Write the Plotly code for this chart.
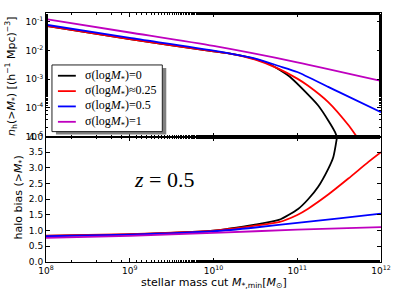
import plotly.graph_objects as go
import numpy as np

# ---- data (log10 stellar mass cut) ----
labels = ["σ(log<i>M</i><sub>*</sub>)=0", "σ(log<i>M</i><sub>*</sub>)≈0.25",
          "σ(log<i>M</i><sub>*</sub>)=0.5", "σ(log<i>M</i><sub>*</sub>)=1"]
colors = ["#000000", "#ff0000", "#0000ff", "#bf00bf"]

# top panel: log10 number density [(h^-1 Mpc)^-3]
nh_logM_s0 = [8, 9, 10, 10.18, 10.42, 10.66, 10.90, 11.13, 11.25, 11.37, 11.45, 11.48, 11.50]
nh_log_s0 = [-1.14, -1.60, -2.03, -2.10, -2.24, -2.46, -2.89, -3.54, -3.92, -4.44, -4.84, -5.05, -5.2]
nh_logM_s025 = [8, 9, 10, 10.18, 10.5, 10.78, 11.0, 11.13, 11.37, 11.61, 11.71, 11.74]
nh_log_s025 = [-1.14, -1.60, -2.03, -2.10, -2.32, -2.64, -2.98, -3.23, -3.80, -4.60, -5.0, -5.12]
nh_logM_s05 = [8, 9, 10, 10.5, 10.78, 11.0, 11.37, 11.5, 12]
nh_log_s05 = [-1.10, -1.56, -2.00, -2.28, -2.54, -2.75, -3.27, -3.45, -4.15]
nh_logM_s1 = [8, 9, 10, 11, 12]
nh_log_s1 = [-0.90, -1.37, -1.84, -2.41, -3.06]

# bottom panel: halo bias (>M*)
b_logM_s0 = [8, 9, 10, 10.18, 10.48, 10.78, 11.01, 11.13, 11.25, 11.37, 11.43, 11.47, 11.485]
b_s0 = [0.83, 0.88, 1.00, 1.06, 1.18, 1.34, 1.69, 2.00, 2.40, 2.97, 3.34, 3.90, 4.20]
b_logM_s025 = [8, 9, 10, 10.48, 10.78, 11.0, 11.13, 11.37, 11.61, 11.85, 12]
b_s025 = [0.84, 0.89, 1.00, 1.15, 1.27, 1.50, 1.70, 2.15, 2.66, 3.19, 3.50]
b_logM_s05 = [8, 9, 10, 10.5, 11, 11.5, 12]
b_s05 = [0.82, 0.87, 0.98, 1.10, 1.25, 1.39, 1.54]
b_logM_s1 = [8, 9, 10, 11, 12]
b_s1 = [0.77, 0.83, 0.93, 1.03, 1.11]

x_tickvals = [1e8, 1e9, 1e10, 1e11, 1e12]
x_ticktext = ["10<sup>8</sup>", "10<sup>9</sup>", "10<sup>10</sup>", "10<sup>11</sup>", "10<sup>12</sup>"]
ytop_tickvals = [1e-5, 1e-4, 1e-3, 1e-2, 1e-1]
ytop_ticktext = ["10<sup>-5</sup>", "10<sup>-4</sup>", "10<sup>-3</sup>", "10<sup>-2</sup>", "10<sup>-1</sup>"]
ybot_tickvals = [0.0, 0.5, 1.0, 1.5, 2.0, 2.5, 3.0, 3.5, 4.0]

top_x = [nh_logM_s0, nh_logM_s025, nh_logM_s05, nh_logM_s1]
top_y = [nh_log_s0, nh_log_s025, nh_log_s05, nh_log_s1]
bot_x = [b_logM_s0, b_logM_s025, b_logM_s05, b_logM_s1]
bot_y = [b_s0, b_s025, b_s05, b_s1]

fig = go.Figure()
for i in range(4):
    fig.add_trace(go.Scatter(
        x=10 ** np.array(top_x[i]), y=10 ** np.array(top_y[i]),
        mode="lines", line=dict(color=colors[i], width=1.8, shape="spline", smoothing=0.6),
        name=labels[i], xaxis="x2", yaxis="y2", showlegend=False))
for i in range(4):
    fig.add_trace(go.Scatter(
        x=10 ** np.array(bot_x[i]), y=bot_y[i],
        mode="lines", line=dict(color=colors[i], width=1.8, shape="spline", smoothing=0.6),
        name=labels[i], xaxis="x", yaxis="y", showlegend=False))

# ---- legend box (matplotlib style, with drop shadow) built in paper coordinates ----
PL, PT, PW, PH = 46, 8, 337, 254          # plot area in pixels
def px(x):
    return (x - PL) / PW
def py(y):
    return (PT + PH - y) / PH

shapes = [
    dict(type="rect", xref="paper", yref="paper", layer="above",
         x0=px(56), x1=px(167), y0=py(132), y1=py(64),
         fillcolor="#808080", line=dict(width=0)),
    dict(type="rect", xref="paper", yref="paper", layer="above",
         x0=px(52), x1=px(163), y0=py(129), y1=py(61),
         fillcolor="white", line=dict(color="#222", width=1)),
]
annotations = []
row_y = [72, 87.7, 103.3, 119]
for i in range(4):
    shapes.append(dict(type="line", xref="paper", yref="paper", layer="above",
                       x0=px(58), x1=px(76), y0=py(row_y[i]), y1=py(row_y[i]),
                       line=dict(color=colors[i], width=1.8)))
    annotations.append(dict(text=labels[i], xref="paper", yref="paper",
                            x=px(83), y=py(row_y[i]), xanchor="left", yanchor="middle",
                            showarrow=False,
                            font=dict(family="Liberation Serif", size=12, color="black")))

tickfont = dict(family="DejaVu Sans", size=9, color="black")
common_x = dict(type="log", range=[8, 12], ticks="inside", ticklen=4, tickcolor="black",
                showline=True, linecolor="black", linewidth=1, mirror="allticks",
                showgrid=False, zeroline=False, tickvals=x_tickvals,
                minor=dict(ticks="inside", ticklen=2, tickcolor="black", showgrid=False))

annotations += [
    dict(text="<i>n</i><sub>h</sub>(><i>M</i><sub>*</sub>) [(h<sup>−1</sup> Mpc)<sup>−3</sup>]",
         xref="paper", yref="paper", x=-0.104, y=0.744, xanchor="center", yanchor="middle",
         textangle=-90, showarrow=False, font=dict(family="DejaVu Sans", size=11, color="black")),
    dict(text="halo bias (><i>M</i><sub>*</sub>)",
         xref="paper", yref="paper", x=-0.08, y=0.26, xanchor="center", yanchor="middle",
         textangle=-90, showarrow=False, font=dict(family="DejaVu Sans", size=11, color="black")),
    dict(text="stellar mass cut <i>M</i><sub>*,min</sub>[<i>M</i><sub>⊙</sub>]",
         xref="paper", yref="paper", x=0.5, y=-0.083, xanchor="center", yanchor="middle",
         showarrow=False, font=dict(family="DejaVu Sans", size=11, color="black")),
    dict(text="<i>z</i> = 0.5", xref="x", yref="y", x=9.41, y=2.62,
         xanchor="center", yanchor="middle", showarrow=False,
         font=dict(family="Liberation Serif", size=22, color="black")),
]

fig.update_layout(
    width=399, height=299,
    margin=dict(l=46, r=16, t=8, b=37),
    paper_bgcolor="white", plot_bgcolor="white",
    xaxis=dict(**common_x, ticktext=x_ticktext, tickfont=tickfont, domain=[0, 1], anchor="y"),
    xaxis2=dict(**common_x, showticklabels=False, domain=[0, 1], anchor="y2", matches="x"),
    yaxis=dict(domain=[0, 0.504], range=[0, 4.0], tickvals=ybot_tickvals,
               ticktext=["%.1f" % v for v in ybot_tickvals], tickfont=tickfont,
               ticks="inside", ticklen=4, tickcolor="black", showline=True, linecolor="black",
               mirror="allticks", showgrid=False, zeroline=False, anchor="x"),
    yaxis2=dict(domain=[0.504, 1], type="log", range=[-5, -0.69], tickvals=ytop_tickvals,
                ticktext=ytop_ticktext, tickfont=tickfont,
                ticks="inside", ticklen=4, tickcolor="black", showline=True, linecolor="black",
                mirror="allticks", showgrid=False, zeroline=False, anchor="x2",
                minor=dict(ticks="inside", ticklen=2, tickcolor="black", showgrid=False)),
    showlegend=False,
    shapes=shapes,
    annotations=annotations,
)

# remove the default 8px page margin so the figure fills the window exactly
fig.write_html("out.html", config={"displayModeBar": False},
               post_script="document.body.style.margin='0';document.body.style.overflow='hidden';")
